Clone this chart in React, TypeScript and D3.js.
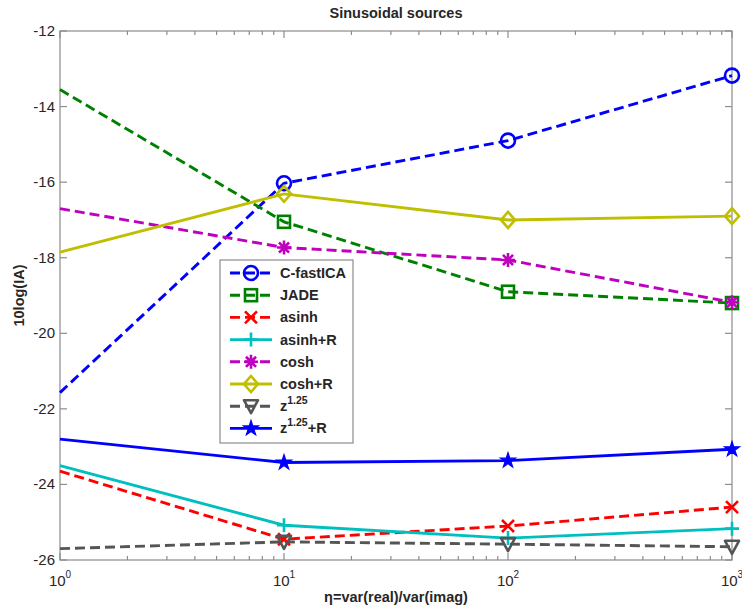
import React, { useEffect, useRef } from "react";
import * as d3 from "d3";

// x positions (eta)
const etas = [1, 10, 100, 1000];

const fastica = [-21.57, -16.03, -14.9, -13.18];
const jade = [-13.55, -17.05, -18.9, -19.2];
const asinh = [-23.65, -25.45, -25.1, -24.6];
const asinhR = [-23.5, -25.08, -25.42, -25.17];
const cosh = [-16.7, -17.73, -18.06, -19.18];
const coshR = [-17.85, -16.31, -17.0, -16.9];
const zpow = [-25.7, -25.52, -25.58, -25.65];
const zpowR = [-22.8, -23.42, -23.37, -23.07];

const yTicks = [-26, -24, -22, -20, -18, -16, -14, -12];
const xDecades = [0, 1, 2, 3];

type Series = {
  name: string;
  sup?: string;
  tail?: string;
  values: number[];
  color: string;
  dashed: boolean;
  marker: string;
};

const series: Series[] = [
  { name: "C-fastICA", values: fastica, color: "#0000ff", dashed: true, marker: "circle" },
  { name: "JADE", values: jade, color: "#008000", dashed: true, marker: "square" },
  { name: "asinh", values: asinh, color: "#ff0000", dashed: true, marker: "x" },
  { name: "asinh+R", values: asinhR, color: "#00bfbf", dashed: false, marker: "plus" },
  { name: "cosh", values: cosh, color: "#bf00bf", dashed: true, marker: "asterisk" },
  { name: "cosh+R", values: coshR, color: "#bfbf00", dashed: false, marker: "diamond" },
  { name: "z", sup: "1.25", values: zpow, color: "#555555", dashed: true, marker: "triangle" },
  { name: "z", sup: "1.25", tail: "+R", values: zpowR, color: "#0000ff", dashed: false, marker: "star" },
];

const W = 742;
const H = 609;
const m = { left: 60, right: 10, top: 31, bottom: 49 };

function drawMarker(g: d3.Selection<SVGGElement, unknown, null, undefined>, type: string, cx: number, cy: number, color: string) {
  const sw = 2.6;
  if (type === "circle") {
    g.append("circle").attr("cx", cx).attr("cy", cy).attr("r", 7).attr("fill", "none").attr("stroke", color).attr("stroke-width", sw);
  } else if (type === "square") {
    g.append("rect").attr("x", cx - 6).attr("y", cy - 6).attr("width", 12).attr("height", 12).attr("fill", "none").attr("stroke", color).attr("stroke-width", sw);
  } else if (type === "x") {
    g.append("path").attr("d", `M${cx - 6},${cy - 6}L${cx + 6},${cy + 6}M${cx - 6},${cy + 6}L${cx + 6},${cy - 6}`).attr("stroke", color).attr("stroke-width", sw);
  } else if (type === "plus") {
    g.append("path").attr("d", `M${cx - 7},${cy}L${cx + 7},${cy}M${cx},${cy - 7}L${cx},${cy + 7}`).attr("stroke", color).attr("stroke-width", sw);
  } else if (type === "asterisk") {
    const r = 7;
    const d = r * 0.72;
    g.append("path")
      .attr("d", `M${cx - r},${cy}L${cx + r},${cy}M${cx},${cy - r}L${cx},${cy + r}M${cx - d},${cy - d}L${cx + d},${cy + d}M${cx - d},${cy + d}L${cx + d},${cy - d}`)
      .attr("stroke", color).attr("stroke-width", sw);
  } else if (type === "diamond") {
    g.append("path").attr("d", `M${cx},${cy - 8}L${cx + 7},${cy}L${cx},${cy + 8}L${cx - 7},${cy}Z`).attr("fill", "none").attr("stroke", color).attr("stroke-width", sw);
  } else if (type === "triangle") {
    g.append("path").attr("d", `M${cx - 7},${cy - 6}L${cx + 7},${cy - 6}L${cx},${cy + 7}Z`).attr("fill", "none").attr("stroke", color).attr("stroke-width", sw).attr("stroke-linejoin", "round");
  } else if (type === "star") {
    g.append("path").attr("d", d3.symbol(d3.symbolStar, 70)()).attr("transform", `translate(${cx},${cy})`).attr("fill", color).attr("stroke", color).attr("stroke-width", 1.2);
  }
}

export default function App() {
  const ref = useRef<SVGSVGElement>(null);

  useEffect(() => {
    const svg = d3.select(ref.current);
    svg.selectAll("*").remove();
    const font = "Arial, 'Liberation Sans', Helvetica, sans-serif";
    const axisColor = "#8c8c8c";
    const textColor = "#262626";

    const x = d3.scaleLog().domain([1, 1000]).range([m.left, W - m.right]);
    const y = d3.scaleLinear().domain([-26, -12]).range([H - m.bottom, m.top]);
    const x0 = m.left, x1 = W - m.right, y0 = H - m.bottom, y1 = m.top;

    svg.append("rect").attr("width", W).attr("height", H).attr("fill", "#fff");

    const ax = svg.append("g").attr("stroke", axisColor).attr("stroke-width", 1.2);
    ax.append("rect").attr("x", x0).attr("y", y1).attr("width", x1 - x0).attr("height", y0 - y1).attr("fill", "none");

    // x ticks (major and minor), top and bottom, inward
    for (let dcd = 0; dcd < 3; dcd++) {
      for (let k = 2; k <= 9; k++) {
        const px = x(k * Math.pow(10, dcd));
        ax.append("line").attr("x1", px).attr("x2", px).attr("y1", y0).attr("y2", y0 - 4);
        ax.append("line").attr("x1", px).attr("x2", px).attr("y1", y1).attr("y2", y1 + 4);
      }
    }
    xDecades.forEach((dcd) => {
      const px = x(Math.pow(10, dcd));
      ax.append("line").attr("x1", px).attr("x2", px).attr("y1", y0).attr("y2", y0 - 7);
      ax.append("line").attr("x1", px).attr("x2", px).attr("y1", y1).attr("y2", y1 + 7);
      const t = svg.append("text").attr("x", px).attr("y", y0 + 26).attr("text-anchor", "middle")
        .attr("font-family", font).attr("font-size", 15).attr("fill", textColor);
      t.append("tspan").text("10");
      t.append("tspan").attr("font-size", 10).attr("dy", -8).text(String(dcd));
    });

    yTicks.forEach((v) => {
      const py = y(v);
      ax.append("line").attr("x1", x0).attr("x2", x0 + 7).attr("y1", py).attr("y2", py);
      ax.append("line").attr("x1", x1).attr("x2", x1 - 7).attr("y1", py).attr("y2", py);
      svg.append("text").attr("x", x0 - 5).attr("y", py + 5).attr("text-anchor", "end")
        .attr("font-family", font).attr("font-size", 15).attr("fill", textColor).text(String(v));
    });

    // lines
    const line = d3.line<number>().x((_, i) => x(etas[i])).y((d) => y(d));
    const plot = svg.append("g");
    series.forEach((s) => {
      plot.append("path").datum(s.values).attr("d", line).attr("fill", "none")
        .attr("stroke", s.color).attr("stroke-width", 2.9)
        .attr("stroke-dasharray", s.dashed ? "10,5" : null);
    });
    series.forEach((s) => {
      const mg = plot.append("g");
      s.values.forEach((v, i) => {
        if (i === 0) return;
        drawMarker(mg, s.marker, x(etas[i]), y(v), s.color);
      });
    });

    // legend
    const lx = 220, ly = 260, lw = 133, lh = 183;
    const lg = svg.append("g");
    lg.append("rect").attr("x", lx).attr("y", ly).attr("width", lw).attr("height", lh)
      .attr("fill", "#fff").attr("stroke", axisColor).attr("stroke-width", 1.2);
    series.forEach((s, i) => {
      const ry = ly + 13 + i * 22.2;
      lg.append("line").attr("x1", lx + 10).attr("x2", lx + 52).attr("y1", ry).attr("y2", ry)
        .attr("stroke", s.color).attr("stroke-width", 2.9).attr("stroke-dasharray", s.dashed ? "10,5" : null);
      drawMarker(lg, s.marker, lx + 31, ry, s.color);
      const t = lg.append("text").attr("x", lx + 60).attr("y", ry + 5)
        .attr("font-family", font).attr("font-size", 14.5).attr("font-weight", "bold").attr("fill", textColor);
      t.append("tspan").text(s.name);
      if (s.sup) {
        t.append("tspan").attr("font-size", 10.5).attr("dy", -7).text(s.sup);
        if (s.tail) t.append("tspan").attr("dy", 7).text(s.tail);
      }
    });

    // title and labels
    svg.append("text").attr("x", (x0 + x1) / 2).attr("y", 18).attr("text-anchor", "middle")
      .attr("font-family", font).attr("font-size", 14.5).attr("font-weight", "bold").attr("fill", textColor)
      .text("Sinusoidal sources");
    svg.append("text").attr("x", (x0 + x1) / 2).attr("y", 602).attr("text-anchor", "middle")
      .attr("font-family", font).attr("font-size", 14.5).attr("font-weight", "bold").attr("fill", textColor)
      .text("η=var(real)/var(imag)");
    svg.append("text").attr("transform", `translate(24,${(y0 + y1) / 2}) rotate(-90)`).attr("text-anchor", "middle")
      .attr("font-family", font).attr("font-size", 14.5).attr("font-weight", "bold").attr("fill", textColor)
      .text("10log(IA)");
  }, []);

  return (
    <svg ref={ref} width={W} height={H} style={{ position: "absolute", left: 0, top: 0 }} />
  );
}
